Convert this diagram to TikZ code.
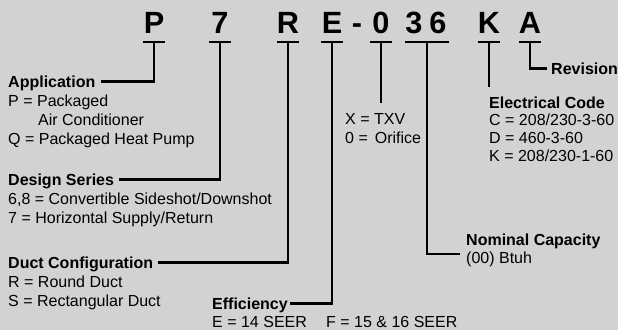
\documentclass[tikz,border=0pt]{standalone}
\usepackage{fontspec}
\setmainfont{Liberation Sans}
\definecolor{bgc}{RGB}{209,210,212}
\begin{document}
\begin{tikzpicture}[x=1pt,y=-1pt,
  code/.style={font=\fontsize{30.7}{31}\selectfont\bfseries, anchor=base, minimum width=22pt, inner sep=0pt},
  head/.style={font=\fontsize{16}{18}\selectfont\bfseries, anchor=base west, inner sep=0pt, text height=11.4pt, text depth=0pt},
  txt/.style={font=\fontsize{16}{18}\selectfont, anchor=base west, inner sep=0pt},
  bar/.style={line width=2.6pt},
  conn/.style={line width=2.6pt}]
\fill[bgc] (0,0) rectangle (618,330);
\useasboundingbox (0,0) rectangle (618,330);
% code letters
\node[code] (nP) at (154,33) {P};
\node[code] (n7) at (220,33) {7};
\node[code] (nR) at (288,33) {R};
\node[code] (nE) at (332,33) {E};
\node[code, minimum width=0pt] (ndash) at (357,33) {-};
\node[code] (n0) at (381,33) {0};
\node[code] (n3) at (414,33) {3};
\node[code] (n6) at (438,33) {6};
\node[code] (nK) at (489,33) {K};
\node[code] (nA) at (530,33) {A};
% bars
\foreach \n in {nP,n7,nR,nE,n0,nK,nA}{
  \draw[bar] ([yshift=-9pt]\n.base west) -- ([yshift=-9pt]\n.base east);
}
\draw[bar] ([yshift=-9pt,xshift=2pt]n3.base west) -- ([yshift=-9pt]n6.base east);
\coordinate (c36) at (427,42);
% labels
\node[head] (app) at (8,87) {Application};
\node[txt] (app1) at (8,106) {P = Packaged};
\node[txt] (app2) at (38,125) {Air Conditioner};
\node[txt] (app3) at (8,144) {Q = Packaged Heat Pump};
\node[head] (des) at (8,185) {Design Series};
\node[txt] (des1) at (8,204) {6,8 = Convertible Sideshot/Downshot};
\node[txt] (des2) at (8,223) {7 = Horizontal Supply/Return};
\node[head] (duct) at (8,268) {Duct Configuration};
\node[txt] (duct1) at (8,287) {R = Round Duct};
\node[txt] (duct2) at (8,306) {S = Rectangular Duct};
\node[head] (eff) at (212,309) {Efficiency};
\node[txt] (eff1) at (212,327) {E = 14 SEER};
\node[txt] (eff2) at (326,327) {F = 15 \& 16 SEER};
\node[txt] (txv1) at (345,124) {X = TXV};
\node[txt] (txv2) at (345,143) {0 = \hspace{2.5pt}Orifice};
\node[head] (ele) at (489,108) {Electrical Code};
\node[txt] (ele1) at (489,125) {C = 208/230-3-60};
\node[txt] (ele2) at (489,143) {D = 460-3-60};
\node[txt] (ele3) at (489,161) {K = 208/230-1-60};
\node[head] (rev) at (551,74) {Revision};
\node[head] (nom) at (466,245) {Nominal Capacity};
\node[txt] (nom1) at (466,263) {(00) Btuh};
% connector ends
\coordinate (zeroend) at (381,103);
\coordinate (kend) at (489,87);
\coordinate (capend) at (460,254);
% connectors
\draw[conn] ([yshift=-9pt]nP.base) |- ([xshift=5pt]app.east);
\draw[conn] ([yshift=-9pt]n7.base) |- ([xshift=5pt]des.east);
\draw[conn] ([yshift=-9pt]nR.base) |- ([xshift=5pt]duct.east);
\draw[conn] ([yshift=-9pt]nE.base) |- ([xshift=2pt]eff.east);
\draw[conn] ([yshift=-9pt]n0.base) -- (zeroend);
\draw[conn] (c36) |- (capend);
\draw[conn] ([yshift=-9pt]nK.base) -- (kend);
\draw[conn] ([yshift=-9pt]nA.base) |- ([xshift=-4pt]rev.west);
\end{tikzpicture}
\end{document}
